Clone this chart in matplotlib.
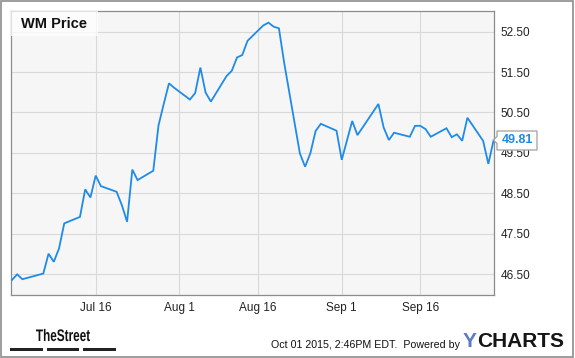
import matplotlib
matplotlib.use("Agg")
import matplotlib.pyplot as plt
from matplotlib.patches import Rectangle, Polygon, PathPatch
from matplotlib.textpath import TextPath
from matplotlib.font_manager import FontProperties
from matplotlib.transforms import Affine2D, IdentityTransform
import datetime as dt

# ---- data ----
dates = [
    "2015-06-30", "2015-07-01", "2015-07-02", "2015-07-06", "2015-07-07", "2015-07-08",
    "2015-07-09", "2015-07-10", "2015-07-13", "2015-07-14", "2015-07-15", "2015-07-16",
    "2015-07-17", "2015-07-20", "2015-07-21", "2015-07-22", "2015-07-23", "2015-07-24",
    "2015-07-27", "2015-07-28", "2015-07-29", "2015-07-30", "2015-07-31", "2015-08-03",
    "2015-08-04", "2015-08-05", "2015-08-06", "2015-08-07", "2015-08-10", "2015-08-11",
    "2015-08-12", "2015-08-13", "2015-08-14", "2015-08-17", "2015-08-18", "2015-08-19",
    "2015-08-20", "2015-08-21", "2015-08-24", "2015-08-25", "2015-08-26", "2015-08-27",
    "2015-08-28", "2015-08-31", "2015-09-01", "2015-09-02", "2015-09-03", "2015-09-04",
    "2015-09-08", "2015-09-09", "2015-09-10", "2015-09-11", "2015-09-14", "2015-09-15",
    "2015-09-16", "2015-09-17", "2015-09-18", "2015-09-21", "2015-09-22", "2015-09-23",
    "2015-09-24", "2015-09-25", "2015-09-28", "2015-09-29", "2015-09-30",
]
prices = [
    46.36, 46.50, 46.38, 46.52, 47.01, 46.81,
    47.14, 47.76, 47.92, 48.60, 48.40, 48.94,
    48.68, 48.54, 48.21, 47.80, 49.09, 48.83,
    49.06, 50.18, 50.71, 51.22, 51.11, 50.82,
    50.98, 51.61, 50.99, 50.77, 51.40, 51.53,
    51.86, 51.92, 52.27, 52.65, 52.72, 52.62,
    52.58, 51.73, 49.49, 49.16, 49.49, 50.04,
    50.22, 50.05, 49.33, 49.81, 50.29, 49.94,
    50.71, 50.13, 49.82, 50.00, 49.90, 50.17,
    50.17, 50.09, 49.90, 50.11, 49.89, 49.96,
    49.80, 50.37, 49.80, 49.23, 49.81,
]
y_ticks = [46.5, 47.5, 48.5, 49.5, 50.5, 51.5, 52.5]
x_tick_dates = ["2015-07-16", "2015-08-01", "2015-08-16", "2015-09-01", "2015-09-16"]
x_tick_labels = ["Jul 16", "Aug 1", "Aug 16", "Sep 1", "Sep 16"]
title = "WM Price"
last_label = "49.81"

# ---- figure ----
W, H = 575, 358
fig = plt.figure(figsize=(W / 100, H / 100), dpi=100)
plt.rcParams['font.family'] = ['Liberation Sans', 'DejaVu Sans']

def fx(x):
    return x / W

def fy(y):
    return 1 - y / H

ax_l, ax_r, ax_t, ax_b = 10.7, 494.0, 10.5, 295.0
ax = fig.add_axes([fx(ax_l), fy(ax_b), fx(ax_r - ax_l), (ax_b - ax_t) / H])
ax.set_facecolor("#f6f6f6")

xd = [dt.datetime.strptime(d, "%Y-%m-%d") for d in dates]
ax.plot(xd, prices, color="#1f8be8", lw=1.3, solid_joinstyle="miter", zorder=3)

x0 = dt.datetime(2015, 6, 30) - dt.timedelta(days=0.23)
x1 = dt.datetime(2015, 6, 30) + dt.timedelta(days=92.08)
ax.set_xlim(x0, x1)
ax.set_ylim(45.99, 53.02)

ax.set_xticks([dt.datetime.strptime(d, "%Y-%m-%d") for d in x_tick_dates])
ax.set_xticklabels(x_tick_labels)
ax.set_yticks(y_ticks)
ax.set_yticklabels([f"{v:.2f}" for v in y_ticks])
ax.yaxis.tick_right()
ax.tick_params(axis="both", length=0, labelsize=8.5, labelcolor="#222222")
ax.tick_params(axis="y", pad=4.5)
ax.tick_params(axis="x", pad=5)
ax.grid(True, color="#d9d9d9", lw=0.8, zorder=0)
ax.set_axisbelow(True)
for s in ax.spines.values():
    s.set_color("#8c8c8c")
    s.set_linewidth(0.9)

# title box
fig.add_artist(Rectangle((fx(ax_l + 0.5), fy(36)), fx(97 - ax_l), (36 - ax_t - 0.5) / H,
                         transform=fig.transFigure, facecolor="white", alpha=0.75,
                         edgecolor="none", zorder=4))
fig.text(fx(21), fy(24), title, fontsize=10.5, fontweight="bold", color="#111111",
         ha="left", va="center", zorder=5)

# last value label
poly = [(493.5, 140), (497, 136.5), (497, 131), (537, 131), (537, 150), (497, 150), (497, 143.5)]
fig.add_artist(Polygon([(fx(a), fy(b)) for a, b in poly], closed=True, transform=fig.transFigure,
                       facecolor="white", edgecolor="#a0a0a0", lw=0.9, zorder=6))
fig.text(fx(517), fy(140.5), last_label, fontsize=9, fontweight="bold", color="#1e88e5",
         ha="center", va="center", zorder=7)

# footer: TheStreet (condensed via path scaling)
tp = TextPath((0, 0), "TheStreet", size=20,
              prop=FontProperties(family="Liberation Sans", weight="bold"))
ext = tp.get_extents()
cap = TextPath((0, 0), "T", size=20,
               prop=FontProperties(family="Liberation Sans", weight="bold")).get_extents()
tx0, tx1, tbase, ttop = 36, 90, 341, 329.5
sx = (tx1 - tx0) / ext.width
sy = (tbase - ttop) / cap.y1
trans = Affine2D().translate(-ext.x0, 0).scale(sx, sy).translate(tx0, H - tbase)
fig.add_artist(PathPatch(tp, transform=trans + IdentityTransform(), facecolor="#111111",
                         edgecolor="none", zorder=5))
for a, b in [(10, 42.7), (46.7, 79.3), (83.3, 116)]:
    fig.add_artist(Rectangle((fx(a), fy(350.5)), fx(b - a), 3 / H, transform=fig.transFigure,
                             facecolor="#222222", edgecolor="none"))

fig.text(fx(460), fy(345), "Oct 01 2015, 2:46PM EDT.  Powered by", fontsize=7.7,
         color="#111111", ha="right", va="center")
fig.text(fx(462.7), fy(341.5), "Y", fontsize=15, fontweight="bold", color="#5b7cc0",
         ha="left", va="center")
fig.text(fx(477), fy(341.5), "CHARTS", fontsize=15, fontweight="bold", color="#151515",
         ha="left", va="center")

# outer frame
fig.add_artist(Rectangle((fx(0.5), fy(356.5)), fx(573 - 0.5), (356.5 - 0.5) / H,
                         transform=fig.transFigure, facecolor="none", edgecolor="#8c8c8c",
                         lw=1.2, zorder=10))

fig.savefig("out.png", dpi=100, facecolor="white")
